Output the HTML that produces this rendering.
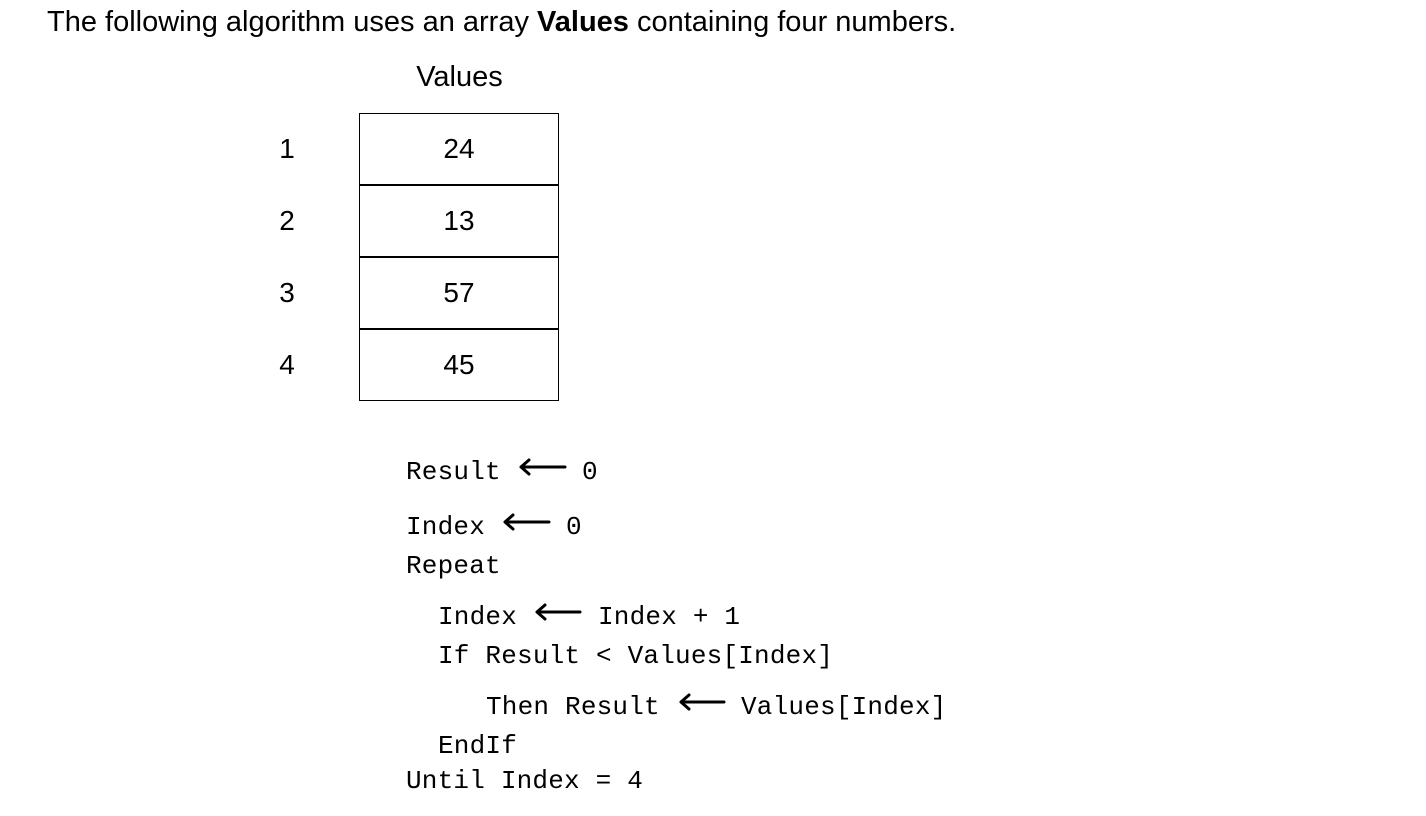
<!DOCTYPE html>
<html><head><style>
body{margin:0;width:1426px;height:816px;background:#fff;position:relative;overflow:hidden;font-family:"Liberation Sans",sans-serif;color:#000}
.a{position:absolute;white-space:pre}
.s{font-size:29px;line-height:30px}
.m{font-family:"Liberation Mono",monospace;font-size:26px;line-height:30px;letter-spacing:0.2px}
.c{position:absolute;left:359px;width:198px;height:70px;border:1.5px solid #000;font-size:28px;line-height:70px;text-align:center}
.n{position:absolute;left:272px;width:30px;text-align:center;font-size:28px;line-height:30px}
</style></head><body>
<div class="a s" style="left:47px;top:7px">The following algorithm uses an array <b>Values</b> containing four numbers.</div>
<div class="a s" style="left:359px;width:201px;text-align:center;top:62px">Values</div>
<div class="c" style="top:113px">24</div>
<div class="c" style="top:185px">13</div>
<div class="c" style="top:257px">57</div>
<div class="c" style="top:329px">45</div>
<div class="n" style="top:134px">1</div>
<div class="n" style="top:206px">2</div>
<div class="n" style="top:278px">3</div>
<div class="n" style="top:350px">4</div>
<div class="a m" style="left:406px;top:457px">Result</div>
<div class="a m" style="left:582px;top:457px">0</div>
<div class="a m" style="left:406px;top:512px">Index</div>
<div class="a m" style="left:566px;top:512px">0</div>
<div class="a m" style="left:406px;top:551px">Repeat</div>
<div class="a m" style="left:438px;top:602px">Index</div>
<div class="a m" style="left:598px;top:602px">Index + 1</div>
<div class="a m" style="left:438px;top:641px">If Result &lt; Values[Index]</div>
<div class="a m" style="left:486px;top:692px">Then Result</div>
<div class="a m" style="left:741px;top:692px">Values[Index]</div>
<div class="a m" style="left:438px;top:731px">EndIf</div>
<div class="a m" style="left:406px;top:766px">Until Index = 4</div>
<svg class="a" style="left:0;top:0" width="1426" height="816">
<g stroke="#000" stroke-width="3" fill="none" stroke-linecap="round" stroke-linejoin="round">
<path d="M521 467H565M529 460L521 467L529 474"/>
<path d="M505 522H549M513 515L505 522L513 529"/>
<path d="M537 612H580M545 605L537 612L545 619"/>
<path d="M681 702H724M689 695L681 702L689 709"/>
</g></svg>
</body></html>
